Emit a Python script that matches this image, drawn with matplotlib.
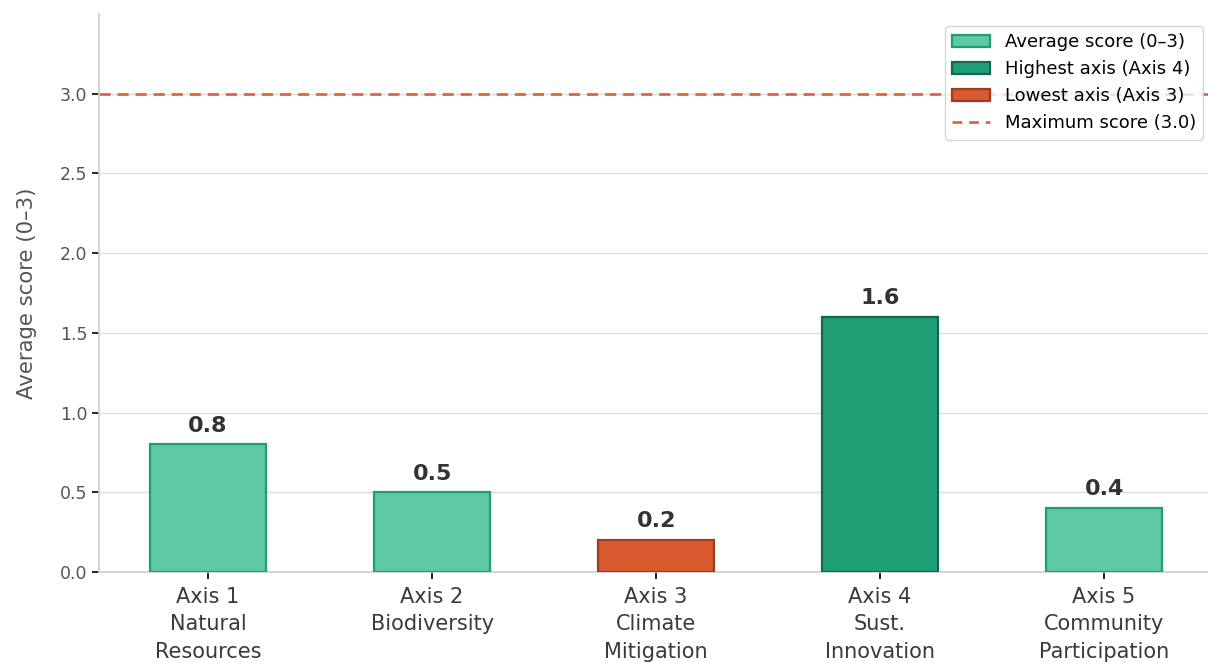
import matplotlib.pyplot as plt
from matplotlib.patches import Patch
from matplotlib.lines import Line2D

# data
categories = ["Axis 1\nNatural\nResources", "Axis 2\nBiodiversity", "Axis 3\nClimate\nMitigation",
              "Axis 4\nSust.\nInnovation", "Axis 5\nCommunity\nParticipation"]
scores = [0.8, 0.5, 0.2, 1.6, 0.4]
max_score = 3.0

c_avg, e_avg = "#5ec9a5", "#1f9e74"
c_hi, e_hi = "#1f9e75", "#14684f"
c_lo, e_lo = "#d95a2f", "#9c3c20"
c_max = "#e0663a"

hi = scores.index(max(scores))
lo = scores.index(min(scores))

fig = plt.figure(figsize=(12.08, 6.62), dpi=100)
ax = fig.add_axes([99 / 1208, 90 / 662, 1 - 99 / 1208, (572 - 14) / 662])

x = list(range(len(scores)))
fc = [c_avg] * len(scores)
ec = [e_avg] * len(scores)
fc[hi], ec[hi] = c_hi, e_hi
fc[lo], ec[lo] = c_lo, e_lo
ax.bar(x, scores, width=0.52, color=fc, edgecolor=ec, linewidth=1.6, zorder=3)

for xi, v in zip(x, scores):
    ax.text(xi, v + 0.055, f"{v:.1f}", ha="center", va="bottom",
            fontsize=16, fontweight="bold", color="#333333", zorder=4)

ax.axhline(max_score, color=c_max, linestyle="--", linewidth=2, dashes=(4, 2.5), zorder=2)

ax.set_xlim(-0.487, 4.464)
ax.set_ylim(0, 3.5)
ax.set_yticks([0, 0.5, 1.0, 1.5, 2.0, 2.5, 3.0])
ax.set_xticks(x)
ax.set_xticklabels(categories, fontsize=15, color="#3a3a3a", linespacing=1.45)
ax.tick_params(axis="y", labelsize=12.5, labelcolor="#555555", length=5, width=1.2)
ax.tick_params(axis="x", length=5, width=1.2, pad=6)
ax.set_ylabel("Average score (0–3)", fontsize=15.3, color="#555555", labelpad=16)

ax.grid(axis="y", color="#dddddd", linewidth=1, zorder=0)
ax.set_axisbelow(True)
for s in ["top", "right"]:
    ax.spines[s].set_visible(False)
for s in ["left", "bottom"]:
    ax.spines[s].set_color("#cccccc")
    ax.spines[s].set_linewidth(1.2)

handles = [
    Patch(facecolor=c_avg, edgecolor=e_avg, linewidth=1.6, label="Average score (0–3)"),
    Patch(facecolor=c_hi, edgecolor=e_hi, linewidth=1.6, label=f"Highest axis (Axis {hi + 1})"),
    Patch(facecolor=c_lo, edgecolor=e_lo, linewidth=1.6, label=f"Lowest axis (Axis {lo + 1})"),
    Line2D([0], [0], color=c_max, linestyle="--", linewidth=2, dashes=(3.5, 2.5), label=f"Maximum score ({max_score:.1f})"),
]
leg = ax.legend(handles=handles, loc="upper right", fontsize=13, frameon=True,
                labelspacing=0.5, handlelength=2.1,
                bbox_to_anchor=(0.999, 0.985), borderaxespad=0.2)
leg.get_frame().set_edgecolor("#cccccc")

fig.savefig("out.png", dpi=100)
